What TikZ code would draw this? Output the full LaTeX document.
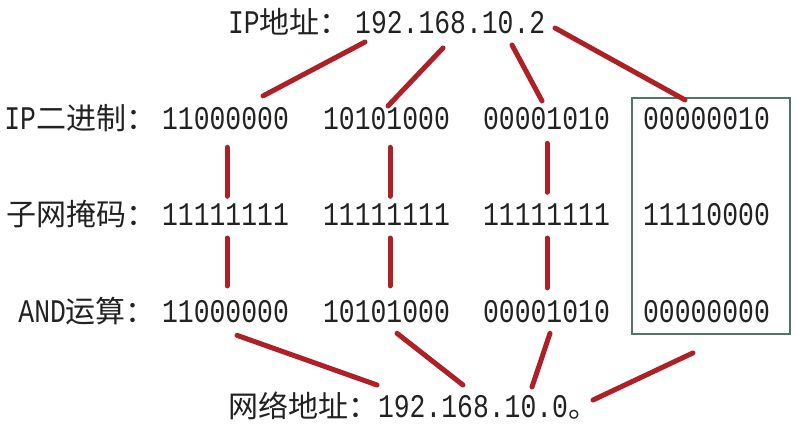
\documentclass[tikz,border=0pt]{standalone}
\usepackage{fontspec}
\setmainfont{Liberation Mono}[FakeStretch=0.8]
\newfontfamily\cjkfont{Noto Sans CJK SC}
\newfontfamily\monofont[FakeStretch=0.8]{Liberation Mono}
\newcommand\zhtxt[1]{{\cjkfont\fontsize{30}{36}\selectfont #1}}
\usetikzlibrary{calc}
\definecolor{linkred}{HTML}{AE1F26}
\definecolor{boxgreen}{HTML}{4F7566}
\definecolor{ink}{HTML}{222222}
\begin{document}
\begin{tikzpicture}[x=1pt,y=-1pt,
  txt/.style={inner sep=0pt, outer sep=0pt, text=ink, font=\monofont\fontsize{33}{36}\selectfont},
  num/.style={txt, anchor=base},
  link/.style={draw=linkred, line width=5pt, line cap=round},
  frame/.style={draw=boxgreen, line width=1.8pt, inner sep=0pt, minimum width=158pt, minimum height=236pt}]
\useasboundingbox (0,0) rectangle (797,429);
% labels
\node[txt, anchor=base west] (top) at (228,33) {IP\zhtxt{地址：}\,192.168.10.2};
\node[txt, anchor=base east] (l1) at (156,129) {IP\zhtxt{二进制：}};
\node[txt, anchor=base east] (l2) at (156,225) {\zhtxt{子网掩码：}};
\node[txt, anchor=base east] (l3) at (156,322) {AND\zhtxt{运算：}};
\node[txt, anchor=base west] (bot) at (228,417) {\zhtxt{网络地址：}192.168.10.0\zhtxt{。}};
% numbers
\node[num] (r1c1) at (225.5,129) {11000000};
\node[num] (r1c2) at (386.5,129) {10101000};
\node[num] (r1c3) at (546.5,129) {00001010};
\node[num] (r1c4) at (706.5,129) {00000010};
\node[num] (r2c1) at (225.5,225) {11111111};
\node[num] (r2c2) at (386.5,225) {11111111};
\node[num] (r2c3) at (546.5,225) {11111111};
\node[num] (r2c4) at (706.5,225) {11110000};
\node[num] (r3c1) at (225.5,322) {11000000};
\node[num] (r3c2) at (386.5,322) {10101000};
\node[num] (r3c3) at (546.5,322) {00001010};
\node[num] (r3c4) at (706.5,322) {00000000};
% frame
\node[frame] (box) at (711,216) {};
% top connectors
\draw[link] ($(top.base west)+(137,9)$) -- ($(r1c1.north)+(37.5,-11)$);
\draw[link] ($(top.base west)+(215,15)$) -- ($(r1c2.north)+(1.5,-1)$);
\draw[link] ($(top.base west)+(284,12)$) -- ($(r1c3.north)+(-4.5,-6)$);
\draw[link] ($(top.base west)+(327,-5)$) -- ($(r1c4.north)+(-21.5,-7)$);
% vertical connectors
\draw[link] ($(r1c1.south)+(1.5,18)$) -- ($(r2c1.north)+(1.5,-7)$);
\draw[link] ($(r2c1.south)+(1.5,13)$) -- ($(r3c1.north)+(1.5,-14)$);
\draw[link] ($(r1c2.south)+(3.5,18)$) -- ($(r2c2.north)+(3.5,-7)$);
\draw[link] ($(r2c2.south)+(3.5,13)$) -- ($(r3c2.north)+(3.5,-14)$);
\draw[link] ($(r1c3.south)+(0.5,14)$) -- ($(r2c3.north)+(0.5,-11)$);
\draw[link] ($(r2c3.south)+(0.5,13)$) -- ($(r3c3.north)+(0.5,-12)$);
% bottom connectors
\draw[link] ($(r3c1.south)+(11.5,13)$) -- ($(bot.base west)+(149,-32)$);
\draw[link] ($(r3c2.south)+(10.5,11)$) -- ($(bot.base west)+(235,-32)$);
\draw[link] ($(r3c3.south)+(3.5,11)$) -- ($(bot.base west)+(304,-30)$);
\draw[link] ($(box.south)+(-18,18)$) -- ($(bot.base west)+(365,-17)$);
\end{tikzpicture}
\end{document}
